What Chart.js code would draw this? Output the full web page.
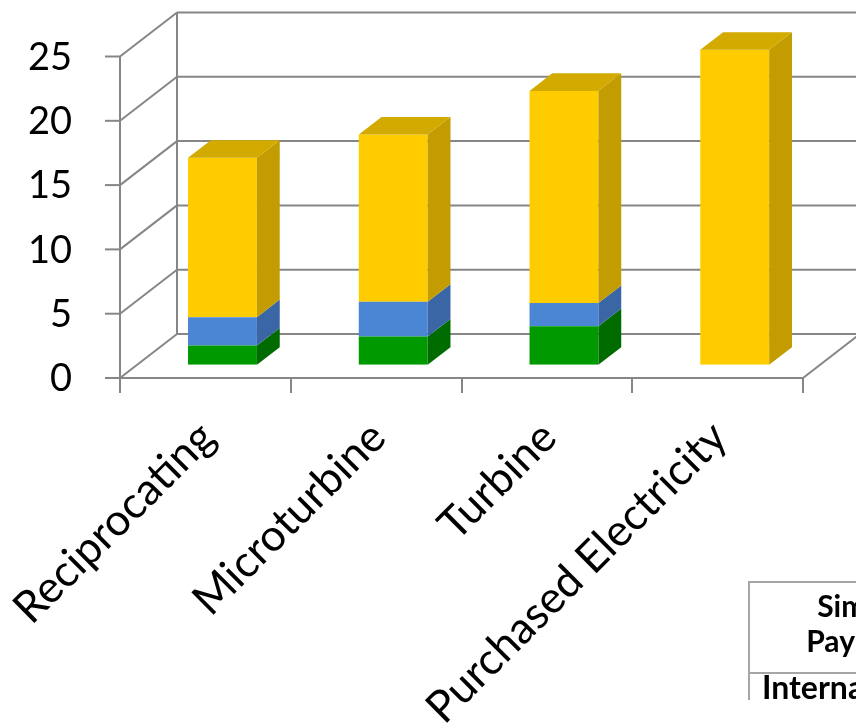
<!DOCTYPE html>
<html>
<head>
<meta charset="utf-8">
<script src="https://cdn.jsdelivr.net/npm/chart.js@4.4.0/dist/chart.umd.min.js"></script>
<style>
    html, body { margin: 0; padding: 0; background: #fff; overflow: hidden; width: 856px; height: 724px; }
    #wrap { position: relative; width: 856px; height: 724px; }
    #chart { position: absolute; left: 0; top: 0; }
    .payback {
        position: absolute; left: 748px; top: 581px; width: 224px;
        border-left: 2px solid #a6a6a6; border-top: 2px solid #a6a6a6;
        font-family: Lato, sans-serif; font-weight: bold; font-size: 30px; color: #000;
    }
    .payback .head { height: 91px; border-bottom: 2px solid #a6a6a6; text-align: center; line-height: 35px; padding-top: 5px; box-sizing: border-box; }
    .payback .row { padding-left: 12px; white-space: nowrap; line-height: 26px; font-size: 32px; }
</style>
</head>
<body>
<div id="wrap">
    <canvas id="chart" width="856" height="724"></canvas>
    <div class="payback">
        <div class="head">Simple<br>Payback</div>
        <div class="row">Internal Rate of Return</div>
    </div>
</div>
<script>
const categories = ['Reciprocating', 'Microturbine', 'Turbine', 'Purchased Electricity'];
const greenValues = [1.5, 2.2, 3.0, 0];
const blueValues = [2.2, 2.7, 1.8, 0];
const yellowValues = [12.4, 13.0, 16.5, 24.5];
const yTicks = [0, 5, 10, 15, 20, 25];

// 3D look: floor depth vector and where the bars sit inside it
const DEPTH = { x: 57, y: -44 };
const BAR_FRONT = 0.3;
const BAR_BACK = 0.7;
const LINE = '#868686';

const sideColors = ['#006c00', '#3a66a6', '#c29c00'];
const topColors = ['#007a00', '#4474bc', '#d2aa00'];

function line(ctx, x1, y1, x2, y2) {
    ctx.beginPath();
    ctx.moveTo(x1, y1);
    ctx.lineTo(x2, y2);
    ctx.stroke();
}

const box3d = {
    id: 'box3d',
    beforeDatasetsDraw(chart) {
        const { ctx, scales: { x, y } } = chart;
        // front plane sits in front of the bar plane
        const ox = -BAR_FRONT * DEPTH.x, oy = -BAR_FRONT * DEPTH.y;
        const xl = x.left + ox, xr = x.right + ox;
        const y0 = y.getPixelForValue(0) + oy;
        const yTop = y.getPixelForValue(yTicks[yTicks.length - 1]) + oy;

        ctx.save();
        ctx.strokeStyle = LINE;
        ctx.lineWidth = 2;
        ctx.lineCap = 'butt';

        yTicks.forEach(v => {
            const fy = y.getPixelForValue(v) + oy;
            line(ctx, xl + DEPTH.x, fy + DEPTH.y, xr + DEPTH.x + 80, fy + DEPTH.y); // back wall
            line(ctx, xl, fy, xl + DEPTH.x, fy + DEPTH.y);                          // side wall
            line(ctx, xl - 15, fy, xl, fy);                                          // tick
        });
        // back corner and front axis
        line(ctx, xl + DEPTH.x, yTop + DEPTH.y, xl + DEPTH.x, y0 + DEPTH.y);
        line(ctx, xl, yTop, xl, y0);
        // floor
        line(ctx, xl, y0, xr, y0);
        line(ctx, xr, y0, xr + DEPTH.x, y0 + DEPTH.y);
        // category boundary ticks
        const step = (xr - xl) / categories.length;
        for (let i = 0; i <= categories.length; i++) {
            const tx = Math.round(xl + i * step);
            line(ctx, tx, y0, tx, y0 + 15);
        }
        ctx.restore();
    },
    afterDatasetsDraw(chart) {
        const { ctx } = chart;
        const dx = (BAR_BACK - BAR_FRONT) * DEPTH.x;
        const dy = (BAR_BACK - BAR_FRONT) * DEPTH.y;
        const count = chart.data.datasets.length;
        ctx.save();
        for (let d = 0; d < count; d++) {
            const meta = chart.getDatasetMeta(d);
            meta.data.forEach((bar, i) => {
                const val = chart.data.datasets[d].data[i];
                if (!val) return;
                const { x: cx, y: top, base, width } = bar.getProps(['x', 'y', 'base', 'width'], true);
                const left = cx - width / 2, right = cx + width / 2;
                // side face
                ctx.fillStyle = sideColors[d];
                ctx.beginPath();
                ctx.moveTo(right, top);
                ctx.lineTo(right + dx, top + dy);
                ctx.lineTo(right + dx, base + dy);
                ctx.lineTo(right, base);
                ctx.closePath();
                ctx.fill();
                // top face only on the highest non-empty segment
                let isTop = true;
                for (let k = d + 1; k < count; k++) {
                    if (chart.data.datasets[k].data[i]) isTop = false;
                }
                if (isTop) {
                    ctx.fillStyle = topColors[d];
                    ctx.beginPath();
                    ctx.moveTo(left, top);
                    ctx.lineTo(left + dx, top + dy);
                    ctx.lineTo(right + dx, top + dy);
                    ctx.lineTo(right, top);
                    ctx.closePath();
                    ctx.fill();
                }
            });
        }
        ctx.restore();
    },
    afterDraw(chart) {
        const { ctx, scales: { x, y } } = chart;
        const ox = -BAR_FRONT * DEPTH.x, oy = -BAR_FRONT * DEPTH.y;
        const xl = x.left + ox;
        const y0 = y.getPixelForValue(0) + oy;
        ctx.save();
        ctx.fillStyle = '#000';
        // value axis labels
        ctx.font = '38px Lato, sans-serif';
        ctx.textAlign = 'right';
        ctx.textBaseline = 'middle';
        yTicks.forEach(v => {
            ctx.fillText(String(v), xl - 48, y.getPixelForValue(v) + oy + 1);
        });
        // category labels, rotated 45 degrees
        ctx.font = '44px Lato, sans-serif';
        ctx.textAlign = 'right';
        ctx.textBaseline = 'middle';
        categories.forEach((c, i) => {
            const cx = x.getPixelForValue(i) + ox;
            ctx.save();
            ctx.translate(cx + 2, y0 + 52);
            ctx.rotate(-Math.PI / 4);
            ctx.fillText(c, 0, 0);
            ctx.restore();
        });
        ctx.restore();
    }
};

// chart area = the plane the bar fronts stand on
const frontZero = 378, unit = 12.86, frontLeft = 120, frontRight = 803;
const barPlaneLeft = frontLeft + BAR_FRONT * DEPTH.x;
const barPlaneRight = frontRight + BAR_FRONT * DEPTH.x;
const barPlaneBottom = frontZero + BAR_FRONT * DEPTH.y;
const barPlaneTop = barPlaneBottom - 25 * unit;

new Chart(document.getElementById('chart'), {
    type: 'bar',
    data: {
        labels: categories,
        datasets: [
            { label: 'Series1', data: greenValues, backgroundColor: '#009a00' },
            { label: 'Series2', data: blueValues, backgroundColor: '#4a86d4' },
            { label: 'Series3', data: yellowValues, backgroundColor: '#ffcc00' }
        ]
    },
    options: {
        responsive: false,
        animation: false,
        devicePixelRatio: 1,
        layout: {
            padding: {
                left: barPlaneLeft,
                right: 856 - barPlaneRight,
                top: barPlaneTop,
                bottom: 724 - barPlaneBottom
            }
        },
        datasets: { bar: { categoryPercentage: 1, barPercentage: 0.4035, borderWidth: 0 } },
        scales: {
            x: { stacked: true, display: false },
            y: { stacked: true, display: false, min: 0, max: 25 }
        },
        plugins: { legend: { display: false }, tooltip: { enabled: false } }
    },
    plugins: [box3d]
});
</script>
</body>
</html>
